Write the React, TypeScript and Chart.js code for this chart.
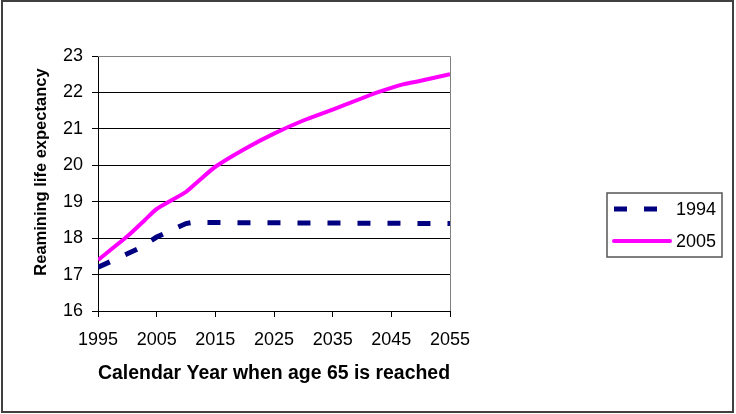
import React, { useEffect, useRef } from "react";
import { Chart, registerables } from "chart.js";

Chart.register(...registerables);

const years1994 = [1995, 2000, 2002, 2005, 2007, 2010, 2011, 2055];
const values1994 = [17.2, 17.57, 17.72, 18.03, 18.18, 18.4, 18.43, 18.4];

const years2005 = [1995, 2000, 2003, 2005, 2010, 2012, 2015, 2020, 2025, 2030, 2035, 2040, 2043, 2047, 2050, 2055];
const values2005 = [17.4, 18.05, 18.5, 18.8, 19.27, 19.55, 19.96, 20.45, 20.87, 21.23, 21.53, 21.84, 22.02, 22.22, 22.32, 22.5];

const seriesLabels = ["1994", "2005"];
const yTitle = "Reamining life expectancy";
const xTitle = "Calendar Year when age 65 is reached";

const FONT = "'Liberation Sans', Arial, sans-serif";

const framePlugin = {
  id: "frame",
  beforeDraw(chart: any) {
    const ctx = chart.ctx;
    ctx.save();
    ctx.fillStyle = "#fff";
    ctx.fillRect(0, 0, chart.width, chart.height);
    ctx.restore();
  },
  beforeDatasetsDraw(chart: any) {
    const { ctx, chartArea } = chart;
    ctx.save();
    ctx.strokeStyle = "#808080";
    ctx.lineWidth = 1;
    ctx.beginPath();
    ctx.moveTo(chartArea.left, chartArea.top + 0.5);
    ctx.lineTo(chartArea.right + 0.5, chartArea.top + 0.5);
    ctx.lineTo(chartArea.right + 0.5, chartArea.bottom);
    ctx.stroke();
    ctx.restore();
  },
  afterDraw(chart: any) {
    const ctx = chart.ctx;
    ctx.save();
    // outer border
    ctx.strokeStyle = "#404040";
    ctx.lineWidth = 2;
    ctx.strokeRect(2, 1, 731, 411);
    // legend
    const bx = 607, by = 193, bw = 115, bh = 64;
    ctx.fillStyle = "#fff";
    ctx.fillRect(bx, by, bw, bh);
    ctx.strokeStyle = "#555";
    ctx.lineWidth = 1.5;
    ctx.strokeRect(bx, by, bw, bh);
    const rows = [209, 241];
    chart.data.datasets.forEach((ds: any, i: number) => {
      const y = rows[i];
      ctx.beginPath();
      ctx.strokeStyle = ds.borderColor;
      ctx.lineWidth = ds.borderWidth;
      ctx.setLineDash(ds.borderDash || []);
      ctx.lineCap = ds.borderDash ? "butt" : "round";
      ctx.moveTo(614, y);
      ctx.lineTo(670, y);
      ctx.stroke();
      ctx.setLineDash([]);
      ctx.fillStyle = "#000";
      ctx.font = `18px ${FONT}`;
      ctx.textBaseline = "middle";
      ctx.textAlign = "left";
      ctx.fillText(ds.label, 676, y + 1);
    });
    ctx.restore();
  },
};

export default function App() {
  const ref = useRef<HTMLCanvasElement | null>(null);

  useEffect(() => {
    if (!ref.current) return;
    Chart.defaults.color = "#000";
    const chart = new Chart(ref.current, {
      type: "line",
      data: {
        datasets: [
          {
            label: seriesLabels[0],
            data: years1994.map((x, i) => ({ x, y: values1994[i] })),
            borderColor: "#000080",
            backgroundColor: "#000080",
            borderWidth: 5,
            borderDash: [13, 17],
            borderCapStyle: "butt",
            pointRadius: 0,
            tension: 0,
          },
          {
            label: seriesLabels[1],
            data: years2005.map((x, i) => ({ x, y: values2005[i] })),
            borderColor: "#FF00FF",
            backgroundColor: "#FF00FF",
            borderWidth: 4,
            pointRadius: 0,
            tension: 0.2,
          },
        ],
      },
      options: {
        responsive: false,
        animation: false,
        layout: { padding: { left: 0, top: 56, right: 286, bottom: 0 } },
        plugins: { legend: { display: false }, tooltip: { enabled: false }, title: { display: false } },
        scales: {
          x: {
            type: "linear",
            min: 1995,
            max: 2055,
            afterFit: (s: any) => { s.height = 103; },
            ticks: { stepSize: 10, font: { size: 18, family: FONT }, padding: 12, maxRotation: 0, callback: (v: any) => String(v) },
            grid: { drawOnChartArea: false, drawTicks: true, tickLength: 6, tickColor: "#000" },
            border: { color: "#000", width: 1 },
            title: { display: true, text: xTitle, font: { size: 20, weight: "bold", family: FONT }, padding: { top: 0, bottom: 29 } },
          },
          y: {
            min: 16,
            max: 23,
            afterFit: (s: any) => { s.width = 98; },
            ticks: { stepSize: 1, font: { size: 18, family: FONT }, padding: 9 },
            grid: {
              color: (c: any) => (c.tick && c.tick.value === 23 ? "#808080" : "#000"),
              lineWidth: 1,
              tickLength: 6,
              tickColor: "#000",
            },
            border: { color: "#000", width: 1 },
            title: { display: true, text: "\u00a0\u00a0\u00a0\u00a0\u00a0" + yTitle, font: { size: 16.5, weight: "bold", family: FONT }, padding: { top: 32, bottom: 0 } },
          },
        },
      },
      plugins: [framePlugin],
    } as any);
    return () => chart.destroy();
  }, []);

  return (
    <div style={{ position: "absolute", left: 0, top: 0, width: 736, height: 414, background: "#fff" }}>
      <canvas ref={ref} width={736} height={414} style={{ display: "block" }} />
    </div>
  );
}
